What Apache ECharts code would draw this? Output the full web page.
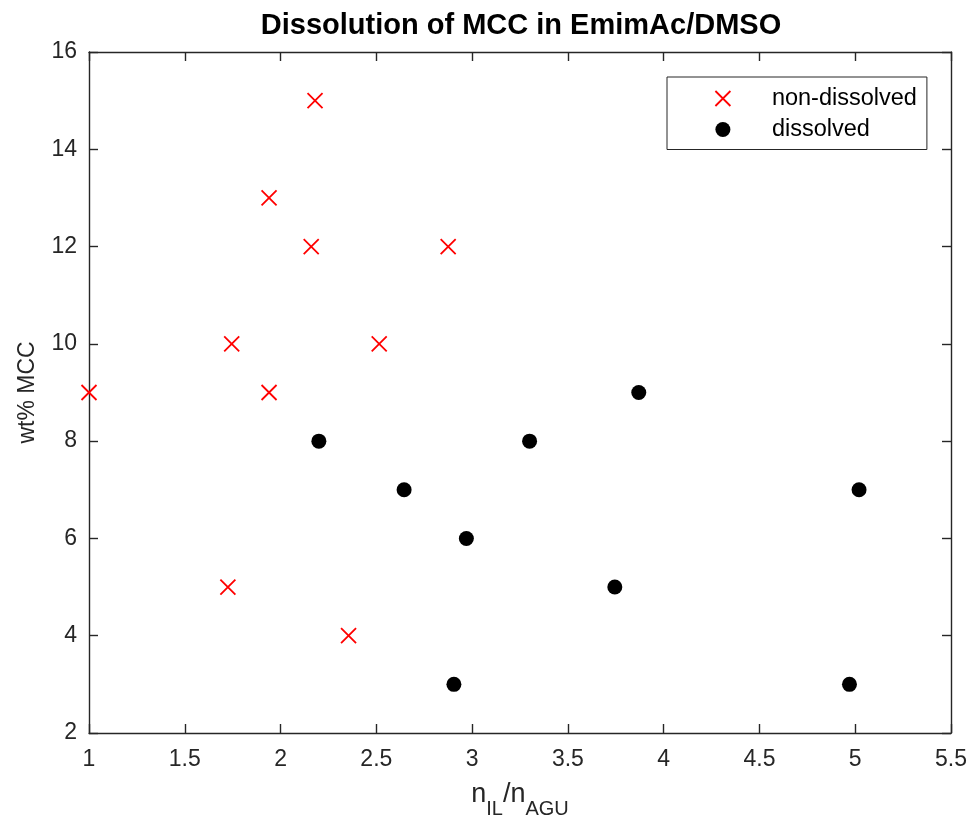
<!DOCTYPE html>
<html>
<head>
<meta charset="utf-8">
<script src="https://cdn.jsdelivr.net/npm/echarts@6/dist/echarts.min.js"></script>
<style>
html,body{margin:0;padding:0;background:#fff;}
#chart{width:973px;height:826px;}
</style>
</head>
<body>
<div id="chart"></div>
<script>
// Data
var nonDissolvedX = [2.18, 1.94, 2.16, 2.875, 1.745, 2.515, 1.0, 1.94, 1.725, 2.355];
var nonDissolvedY = [15, 13, 12, 12, 10, 10, 9, 9, 5, 4];
var dissolvedX = [2.2, 2.645, 2.97, 2.905, 3.87, 3.3, 5.02, 3.745, 4.97];
var dissolvedY = [8, 7, 6, 3, 9, 8, 7, 5, 3];
var seriesNames = ['non-dissolved', 'dissolved'];
var titleText = 'Dissolution of MCC in EmimAc/DMSO';
var xTitle = '{n|n}{s|IL}{n|/n}{s|AGU}';
var yTitle = 'wt% MCC';
var xMin = 1, xMax = 5.5, xStep = 0.5;
var yMin = 2, yMax = 16, yStep = 2;

function pairs(xs, ys) { return xs.map(function (x, i) { return [x, ys[i]]; }); }

var FONT = 'Liberation Sans, Arial, Helvetica, sans-serif';
var AX = '#262626';
var crossPath = 'path://M0,0L10,10M10,0L0,10';

var axisCommon = {
  axisLine: { show: true, onZero: false, lineStyle: { color: AX, width: 1.4 } },
  axisTick: { show: true, inside: true, length: 9, lineStyle: { color: AX, width: 1.4 } },
  splitLine: { show: false }
};

var chart = echarts.init(document.getElementById('chart'), null, { renderer: 'canvas' });
chart.setOption({
  animation: false,
  backgroundColor: '#ffffff',
  title: {
    text: titleText,
    left: 521,
    top: 11,
    padding: 0,
    textAlign: 'center',
    textStyle: { fontFamily: FONT, fontSize: 29, fontWeight: 'bold', color: '#000' }
  },
  grid: { left: 89, right: 22, top: 52, bottom: 93, containLabel: false },
  legend: {
    orient: 'vertical',
    left: 667,
    top: 77,
    padding: [9.5, 10, 8, 47.5],
    itemWidth: 15,
    itemHeight: 15,
    itemGap: 7,
    borderColor: AX,
    borderWidth: 1,
    borderRadius: 0,
    backgroundColor: '#fff',
    textStyle: { fontFamily: FONT, fontSize: 23.5, lineHeight: 23, color: '#000', padding: [0, 0, 0, 36.5] },
    data: [
      { name: seriesNames[0], icon: crossPath, itemStyle: { color: 'rgba(0,0,0,0)', borderColor: '#ff0000', borderWidth: 1.8 } },
      { name: seriesNames[1], icon: 'circle', itemStyle: { color: '#000' } }
    ]
  },
  xAxis: [
    Object.assign({
      type: 'value', position: 'bottom', min: xMin, max: xMax, interval: xStep,
      name: xTitle, nameLocation: 'middle', nameGap: 48,
      nameTextStyle: {
        color: AX, fontFamily: FONT,
        rich: {
          n: { fontSize: 27, lineHeight: 27, verticalAlign: 'top', color: AX, fontFamily: FONT },
          s: { fontSize: 20, lineHeight: 20, padding: [18, 0, 0, 0], verticalAlign: 'top', color: AX, fontFamily: FONT }
        }
      },
      axisLabel: { margin: 15, fontSize: 23, color: AX, fontFamily: FONT }
    }, axisCommon),
    Object.assign({
      type: 'value', position: 'top', min: xMin, max: xMax, interval: xStep,
      axisLabel: { show: false }
    }, axisCommon)
  ],
  yAxis: [
    Object.assign({
      type: 'value', position: 'left', min: yMin, max: yMax, interval: yStep,
      name: yTitle, nameLocation: 'middle', nameGap: 50,
      nameTextStyle: { fontSize: 23, color: AX, fontFamily: FONT },
      axisLabel: { margin: 12, fontSize: 23, color: AX, fontFamily: FONT }
    }, axisCommon),
    Object.assign({
      type: 'value', position: 'right', min: yMin, max: yMax, interval: yStep,
      axisLabel: { show: false }
    }, axisCommon)
  ],
  series: [
    {
      name: seriesNames[0],
      type: 'scatter',
      xAxisIndex: 0, yAxisIndex: 0,
      symbol: crossPath,
      symbolSize: 15,
      itemStyle: { color: 'rgba(0,0,0,0)', borderColor: '#ff0000', borderWidth: 1.8, opacity: 1 },
      data: pairs(nonDissolvedX, nonDissolvedY),
      clip: false
    },
    {
      name: seriesNames[1],
      type: 'scatter',
      xAxisIndex: 0, yAxisIndex: 0,
      symbol: 'circle',
      symbolSize: 15,
      itemStyle: { color: '#000000', opacity: 1 },
      data: pairs(dissolvedX, dissolvedY),
      clip: false
    }
  ]
});
</script>
</body>
</html>
